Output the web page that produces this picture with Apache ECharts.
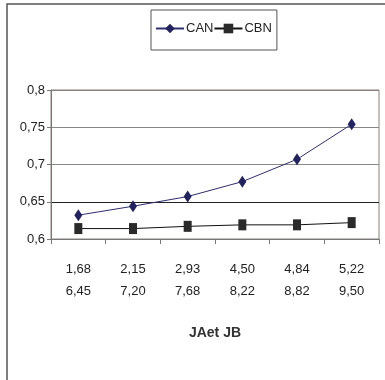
<!DOCTYPE html>
<html>
<head>
<meta charset="utf-8">
<script src="https://cdn.jsdelivr.net/npm/echarts@6/dist/echarts.min.js"></script>
<style>
  html, body { margin: 0; padding: 0; background: #fff; }
  #chart { width: 385px; height: 380px; }
</style>
</head>
<body>
<div id="chart"></div>
<script>
// Paired JA / JB values shown under each category
var jaValues = ['1,68', '2,15', '2,93', '4,50', '4,84', '5,22'];
var jbValues = ['6,45', '7,20', '7,68', '8,22', '8,82', '9,50'];
var categories = jaValues.map(function (ja, i) { return ja + '\n' + jbValues[i]; });

// Series
var canValues = [0.632, 0.644, 0.657, 0.677, 0.707, 0.754];
var cbnValues = [0.614, 0.614, 0.617, 0.619, 0.619, 0.622];

// Value axis
var yMin = 0.6, yMax = 0.8, yStep = 0.05;
var axisTitle = 'JAet JB';

var FONT = '"Liberation Sans", Arial, sans-serif';

var chart = echarts.init(document.getElementById('chart'), null, { renderer: 'canvas' });
chart.setOption({
  animation: false,
  backgroundColor: '#fff',
  textStyle: { fontFamily: FONT, color: '#222' },
  graphic: [{
    type: 'rect',
    shape: { x: 7, y: 4, width: 420, height: 420 },
    style: { fill: 'none', stroke: '#555', lineWidth: 1.5 },
    silent: true
  }],
  legend: {
    top: 10,
    left: 151,
    padding: [12, 5, 15, 4],
    borderColor: '#555',
    borderWidth: 1,
    itemWidth: 28,
    itemHeight: 12,
    itemGap: 0,
    textStyle: { fontFamily: FONT, fontSize: 13, color: '#222', padding: [0, 0, 0, -3] },
    data: ['CAN', 'CBN']
  },
  grid: { left: 51, right: 6, top: 90, bottom: 141, show: true, borderColor: '#8a807a', borderWidth: 1, backgroundColor: 'transparent' },
  xAxis: {
    type: 'category',
    data: categories,
    boundaryGap: true,
    axisLine: { lineStyle: { color: '#777', width: 1 } },
    axisTick: { show: true, length: 5, lineStyle: { color: '#777' } },
    axisLabel: { fontFamily: FONT, fontSize: 13, color: '#222', lineHeight: 22, margin: 19 },
    name: axisTitle,
    nameLocation: 'middle',
    nameGap: 87,
    nameTextStyle: { fontFamily: FONT, fontSize: 14, fontWeight: 'bold', color: '#333' }
  },
  yAxis: {
    type: 'value',
    min: yMin,
    max: yMax,
    interval: yStep,
    axisLine: { show: true, lineStyle: { color: '#777', width: 1 } },
    axisTick: { show: true, length: 4, lineStyle: { color: '#777' } },
    axisLabel: {
      fontFamily: FONT, fontSize: 13, color: '#222', margin: 6,
      formatter: function (v) { return String(+v.toFixed(2)).replace('.', ','); }
    },
    splitLine: { show: true, lineStyle: { color: ['#888', '#222', '#888', '#888', '#8a807a'], width: 1 } }
  },
  series: [
    {
      name: 'CAN',
      type: 'line',
      data: canValues,
      symbol: 'diamond',
      symbolSize: [8, 12],
      lineStyle: { color: '#2e2e6e', width: 1 },
      itemStyle: { color: '#22225e' }
    },
    {
      name: 'CBN',
      type: 'line',
      data: cbnValues,
      symbol: 'rect',
      symbolSize: [8, 11],
      lineStyle: { color: '#111', width: 1 },
      itemStyle: { color: '#2a2a2a' }
    }
  ]
});
</script>
</body>
</html>
